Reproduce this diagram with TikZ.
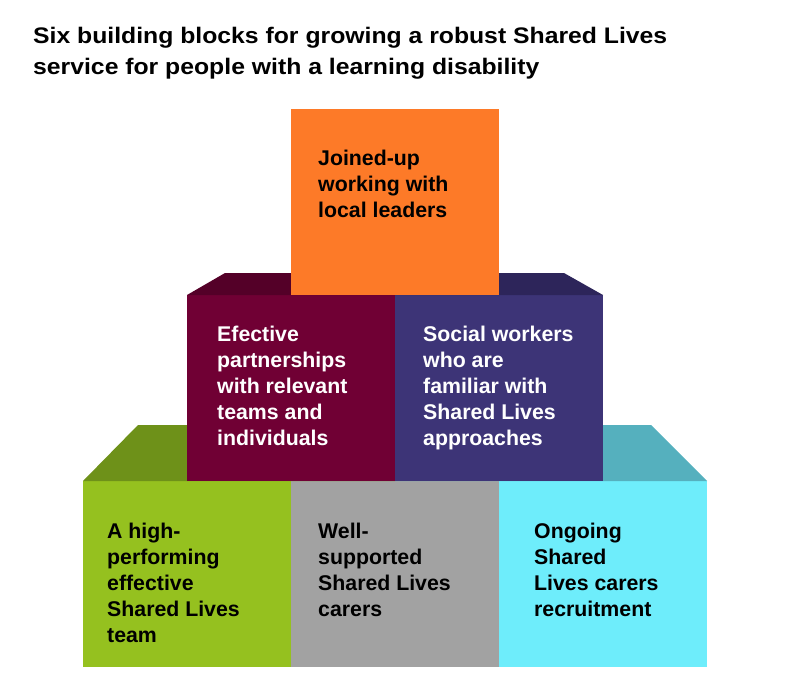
\documentclass[tikz,border=0pt]{standalone}
\usepackage{fontspec}
\setmainfont{Liberation Sans}
\newfontfamily\titlefont{Liberation Sans}[FakeStretch=1.1]
\usepackage{tikz}
\usetikzlibrary{positioning}
\definecolor{orangeblk}{HTML}{FD7A28}
\definecolor{maroonblk}{HTML}{700034}
\definecolor{maroontop}{HTML}{540028}
\definecolor{purpleblk}{HTML}{3D3477}
\definecolor{purpletop}{HTML}{2D255A}
\definecolor{greenblk}{HTML}{95C11F}
\definecolor{greentop}{HTML}{6E9119}
\definecolor{grayblk}{HTML}{A2A2A2}
\definecolor{cyanblk}{HTML}{6EEDFB}
\definecolor{cyantop}{HTML}{55B0BE}
\tikzset{
  block/.style={anchor=north west, minimum width=208pt, minimum height=186pt, inner sep=0pt, outer sep=0pt},
  blocktext/.style={anchor=north west, align=left, inner sep=0pt, font=\bfseries\fontsize{21.3}{26}\selectfont},
  title/.style={anchor=north west, align=left, inner sep=0pt, font=\titlefont\bfseries\fontsize{22.5}{31}\selectfont},
}
\begin{document}
\begin{tikzpicture}[x=1pt, y=-1pt]
\useasboundingbox (0,0) rectangle (800,698);
\node[title] (head) at (33,27) {Six building blocks for growing a robust Shared Lives\\service for people with a learning disability};
% bottom row
\node[block, fill=greenblk] (team) at (83,481) {};
\node[block, fill=grayblk] (carers) at (291,481) {};
\node[block, fill=cyanblk] (recruit) at (499,481) {};
% middle row
\node[block, fill=maroonblk] (partner) at (187,295) {};
\node[block, fill=purpleblk] (social) at (395,295) {};
\fill[greentop] (team.north west) -- ++(55,-56) -| (partner.south east) -- cycle;
\fill[cyantop] (recruit.north east) -- ++(-56,-56) -| (social.south west) -- cycle;
\node[block, fill=maroonblk] at (partner.north west) {};
\node[block, fill=purpleblk] at (social.north west) {};
\fill[maroontop] (partner.north west) -- ++(38,-22) -| (partner.north east) -- cycle;
\fill[purpletop] (social.north east) -- ++(-39,-22) -| (social.north west) -- cycle;
% top block
\node[block, fill=orangeblk] (leaders) at (291,109) {};
% texts
\node[blocktext] (leaderstxt) at (318,150) {Joined-up\\working with\\local leaders};
\node[blocktext, white] (partnertxt) at (217,326) {Efective\\partnerships\\with relevant\\teams and\\individuals};
\node[blocktext, white] (socialtxt) at (423,326) {Social workers\\who are\\familiar with\\Shared Lives\\approaches};
\node[blocktext] (teamtxt) at (107,523) {A high-\\performing\\effective\\Shared Lives\\team};
\node[blocktext] (carerstxt) at (318,523) {Well-\\supported\\Shared Lives\\carers};
\node[blocktext] (recruittxt) at (534,523) {Ongoing\\Shared\\Lives carers\\recruitment};
\end{tikzpicture}
\end{document}
